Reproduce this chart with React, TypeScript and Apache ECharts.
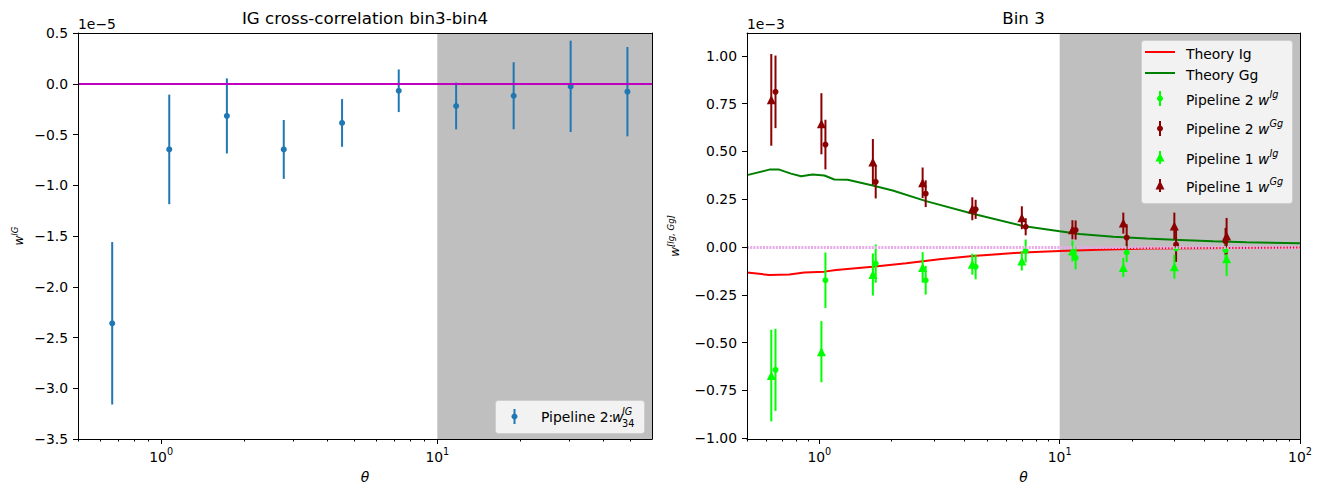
import React, { useEffect, useRef } from 'react';
import * as echarts from 'echarts';

// ---------- Left panel: IG cross-correlation bin3-bin4 (values in units of 1e-5) ----------
const thetaLeft = [0.665, 1.07, 1.73, 2.78, 4.52, 7.25, 11.7, 18.9, 30.4, 48.8];
const wIG = [-2.36, -0.647, -0.317, -0.647, -0.386, -0.069, -0.219, -0.118, -0.026, -0.078];
const wIGErr = [0.8, 0.54, 0.37, 0.29, 0.235, 0.21, 0.23, 0.33, 0.45, 0.44];
const yTicksLeft = [-3.5, -3, -2.5, -2, -1.5, -1, -0.5, 0, 0.5];

// ---------- Right panel: Bin 3 (values in units of 1e-3) ----------
const thetaP1 = [0.631, 1.02, 1.67, 2.69, 4.33, 6.96, 11.3, 18.4, 30.0, 49.5];
const thetaP2 = [0.657, 1.06, 1.716, 2.77, 4.47, 7.22, 11.65, 19.0, 30.5, 49.0];
const p1Gg = [0.77, 0.645, 0.445, 0.336, 0.2, 0.153, 0.09, 0.125, 0.11, 0.057];
const p1GgErr = [0.24, 0.16, 0.12, 0.08, 0.06, 0.06, 0.05, 0.055, 0.07, 0.095];
const p2Gg = [0.812, 0.536, 0.341, 0.279, 0.197, 0.106, 0.089, 0.049, 0.012, 0.03];
const p2GgErr = [0.19, 0.13, 0.087, 0.07, 0.05, 0.045, 0.05, 0.07, 0.09, 0.07];
const p1Ig = [-0.673, -0.548, -0.144, -0.107, -0.09, -0.073, -0.021, -0.107, -0.103, -0.061];
const p1IgErr = [0.24, 0.16, 0.11, 0.08, 0.055, 0.05, 0.055, 0.05, 0.063, 0.09];
const p2Ig = [-0.643, -0.174, -0.087, -0.174, -0.104, -0.021, -0.057, -0.029, -0.008, -0.017];
const p2IgErr = [0.215, 0.145, 0.1, 0.075, 0.065, 0.06, 0.06, 0.05, 0.06, 0.05];

const thetaTheoryGg = [0.5, 0.619, 0.681, 0.762, 0.839, 0.938, 1.049, 1.155, 1.312, 1.667, 2.02, 2.78, 4.35, 7.03, 10, 12.1, 16.7, 23.0, 31.6, 43.5, 59.9, 100];
const theoryGg = [0.376, 0.405, 0.405, 0.384, 0.37, 0.379, 0.374, 0.353, 0.352, 0.322, 0.296, 0.24, 0.174, 0.11, 0.082, 0.068, 0.054, 0.044, 0.037, 0.03, 0.025, 0.019];
const thetaTheoryIg = [0.5, 0.619, 0.75, 0.866, 1.049, 1.174, 1.667, 2.3, 3.16, 4.35, 7.03, 10, 14.7, 23, 100];
const theoryIg = [-0.134, -0.146, -0.144, -0.134, -0.129, -0.12, -0.104, -0.085, -0.064, -0.047, -0.029, -0.021, -0.014, -0.008, -0.003];
const yTicksRight = [-1, -0.75, -0.5, -0.25, 0, 0.25, 0.5, 0.75, 1];

const FONT = 'DejaVu Sans';
const TICK_FS = 13.9;
const SUP_FS = 9.7;
const lg = Math.log10;

function minorTicks(min: number, max: number) {
  const out: number[] = [];
  for (let d = -1; d <= 2; d++) {
    for (let k = 2; k <= 9; k++) {
      const v = lg(k * Math.pow(10, d));
      if (v >= min - 1e-9 && v <= max + 1e-9) out.push(v);
    }
  }
  return out;
}
function majorTicks(min: number, max: number) {
  const out: number[] = [];
  for (let d = -1; d <= 2; d++) if (d >= min - 1e-9 && d <= max + 1e-9) out.push(d);
  return out;
}
const fmtMinus = (s: string) => s.replace('-', '\u2212');

const supRich = {
  b: { fontFamily: FONT, fontSize: TICK_FS, lineHeight: 18, verticalAlign: 'bottom', color: '#000' },
  s: { fontFamily: FONT, fontSize: SUP_FS, lineHeight: 12, verticalAlign: 'top', color: '#000' },
};

function xAxes(gridIndex: number, min: number, max: number) {
  const base = { type: 'value', gridIndex, min, max, splitLine: { show: false } };
  return [
    {
      ...base,
      position: 'bottom',
      axisLine: { show: true, onZero: false, lineStyle: { color: '#000', width: 1 } },
      axisTick: { show: true, length: 5, customValues: majorTicks(min, max), lineStyle: { color: '#000' } },
      axisLabel: {
        show: true, customValues: majorTicks(min, max), margin: 7, color: '#000',
        fontFamily: FONT, fontSize: TICK_FS, rich: supRich,
        formatter: (v: number) => '{b|10}{s|' + Math.round(v) + '}',
      },
      name: 'θ', nameLocation: 'middle', nameGap: 31,
      nameTextStyle: { fontFamily: FONT, fontSize: TICK_FS, fontStyle: 'italic', color: '#000' },
      z: 10,
    },
    {
      ...base,
      position: 'bottom',
      axisLine: { show: false, onZero: false },
      axisTick: { show: true, length: 2.5, customValues: minorTicks(min, max), lineStyle: { color: '#000' } },
      axisLabel: { show: false },
    },
    {
      ...base,
      position: 'top',
      axisLine: { show: true, onZero: false, lineStyle: { color: '#000', width: 1 } },
      axisTick: { show: false },
      axisLabel: { show: false },
      z: 10,
    },
  ];
}

function yAxes(gridIndex: number, min: number, max: number, ticks: number[], digits: number, name: string, nameGap: number) {
  const base = { type: 'value', gridIndex, min, max, splitLine: { show: false } };
  return [
    {
      ...base,
      position: 'left',
      axisLine: { show: true, onZero: false, lineStyle: { color: '#000', width: 1 } },
      axisTick: { show: true, length: 5, customValues: ticks, lineStyle: { color: '#000' } },
      axisLabel: {
        show: true, customValues: ticks, margin: 10, color: '#000', fontFamily: FONT, fontSize: TICK_FS,
        formatter: (v: number) => fmtMinus(Math.abs(v) < 1e-12 ? (0).toFixed(digits) : v.toFixed(digits)),
      },
      name, nameLocation: 'middle', nameGap, nameRotate: 90,
      nameTextStyle: {
        fontFamily: FONT, color: '#000',
        rich: {
          w: { fontFamily: FONT, fontStyle: 'italic', fontSize: 12, lineHeight: 15, verticalAlign: 'bottom', color: '#000' },
          sup: { fontFamily: FONT, fontStyle: 'italic', fontSize: 8.5, lineHeight: 10, verticalAlign: 'top', color: '#000' },
        },
      },
      z: 10,
    },
    {
      ...base,
      position: 'right',
      axisLine: { show: true, onZero: false, lineStyle: { color: '#000', width: 1 } },
      axisTick: { show: false },
      axisLabel: { show: false },
      z: 10,
    },
  ];
}

function errorBars(name: string, xs: number[], ys: number[], es: number[], color: string, xAxisIndex: number, yAxisIndex: number) {
  return {
    type: 'custom', name, xAxisIndex, yAxisIndex, silent: true, z: 3,
    data: xs.map((x, i) => [lg(x), ys[i], es[i]]),
    renderItem: (_p: any, api: any) => {
      const x = api.value(0), y = api.value(1), e = api.value(2);
      const a = api.coord([x, y - e]);
      const b = api.coord([x, y + e]);
      return { type: 'line', shape: { x1: a[0], y1: a[1], x2: b[0], y2: b[1] }, style: { stroke: color, lineWidth: 2 } };
    },
  };
}
function markers(name: string, xs: number[], ys: number[], color: string, symbol: string, size: number, xAxisIndex: number, yAxisIndex: number) {
  return {
    type: 'scatter', name, xAxisIndex, yAxisIndex, silent: true, z: 4,
    symbol, symbolSize: size, itemStyle: { color, opacity: 1 },
    data: xs.map((x, i) => [lg(x), ys[i]]),
  };
}

const L_MIN = lg(0.5), L_MAX = lg(59.9);
const R_MIN = lg(0.5), R_MAX = 2;

function richLabel(x: number, y: number, text: string) {
  return {
    type: 'text', x, y, z: 101,
    style: {
      text, x: 0, y: 0, fill: '#000', fontFamily: FONT, fontSize: TICK_FS,
      verticalAlign: 'middle', align: 'left',
      rich: {
        n: { fontFamily: FONT, fontSize: TICK_FS, lineHeight: 18, verticalAlign: 'bottom' },
        w: { fontFamily: FONT, fontSize: TICK_FS, fontStyle: 'italic', lineHeight: 18, verticalAlign: 'bottom' },
        sup: { fontFamily: FONT, fontSize: SUP_FS, fontStyle: 'italic', lineHeight: 12, verticalAlign: 'top' },
      },
    },
  };
}

function buildOption() {
  const greyArea = (xAxisIndex: number, yAxisIndex: number, from: number, to: number) => ({
    type: 'line', xAxisIndex, yAxisIndex, data: [], silent: true, z: 1,
    markArea: { silent: true, itemStyle: { color: '#bfbfbf' }, data: [[{ xAxis: from }, { xAxis: to }]] },
  });

  const series: any[] = [
    greyArea(0, 0, 1, L_MAX),
    {
      type: 'line', xAxisIndex: 0, yAxisIndex: 0, data: [], silent: true, z: 2,
      markLine: { silent: true, symbol: 'none', label: { show: false }, lineStyle: { color: '#bf00bf', width: 2, type: 'solid' }, data: [{ yAxis: 0 }] },
    },
    errorBars('Pipeline 2', thetaLeft, wIG, wIGErr, '#1f77b4', 0, 0),
    markers('Pipeline 2', thetaLeft, wIG, '#1f77b4', 'circle', 6, 0, 0),

    greyArea(3, 2, 1, R_MAX),
    {
      type: 'line', xAxisIndex: 3, yAxisIndex: 2, data: [], silent: true, z: 2,
      markLine: { silent: true, symbol: 'none', label: { show: false }, lineStyle: { color: '#eaaaea', width: 3, type: [2, 1.2], opacity: 1 }, data: [{ yAxis: 0 }] },
    },
    {
      type: 'line', name: 'Theory Ig', xAxisIndex: 3, yAxisIndex: 2, showSymbol: false, silent: true, z: 2,
      lineStyle: { color: '#ff0000', width: 2 }, data: thetaTheoryIg.map((t, i) => [lg(t), theoryIg[i]]),
    },
    {
      type: 'line', name: 'Theory Gg', xAxisIndex: 3, yAxisIndex: 2, showSymbol: false, silent: true, z: 2,
      lineStyle: { color: '#008000', width: 2 }, data: thetaTheoryGg.map((t, i) => [lg(t), theoryGg[i]]),
    },
    errorBars('P2 Ig', thetaP2, p2Ig, p2IgErr, '#00ff00', 3, 2),
    markers('P2 Ig', thetaP2, p2Ig, '#00ff00', 'circle', 6, 3, 2),
    errorBars('P2 Gg', thetaP2, p2Gg, p2GgErr, '#8b0000', 3, 2),
    markers('P2 Gg', thetaP2, p2Gg, '#8b0000', 'circle', 6, 3, 2),
    errorBars('P1 Ig', thetaP1, p1Ig, p1IgErr, '#00ff00', 3, 2),
    markers('P1 Ig', thetaP1, p1Ig, '#00ff00', 'triangle', 9, 3, 2),
    errorBars('P1 Gg', thetaP1, p1Gg, p1GgErr, '#8b0000', 3, 2),
    markers('P1 Gg', thetaP1, p1Gg, '#8b0000', 'triangle', 9, 3, 2),
  ];

  const legendRight: any[] = [
    { type: 'rect', z: 100, shape: { x: 1141.5, y: 40.5, width: 151, height: 163, r: 3 }, style: { fill: 'rgba(255,255,255,0.8)', stroke: 'rgba(204,204,204,0.8)', lineWidth: 1 } },
    { type: 'line', z: 101, shape: { x1: 1145, y1: 52, x2: 1175, y2: 52 }, style: { stroke: '#ff0000', lineWidth: 2 } },
    { type: 'line', z: 101, shape: { x1: 1145, y1: 73, x2: 1175, y2: 73 }, style: { stroke: '#008000', lineWidth: 2 } },
    { type: 'line', z: 101, shape: { x1: 1160, y1: 91, x2: 1160, y2: 106 }, style: { stroke: '#00ff00', lineWidth: 2 } },
    { type: 'circle', z: 102, shape: { cx: 1160, cy: 98.5, r: 3 }, style: { fill: '#00ff00' } },
    { type: 'line', z: 101, shape: { x1: 1160, y1: 121, x2: 1160, y2: 136 }, style: { stroke: '#8b0000', lineWidth: 2 } },
    { type: 'circle', z: 102, shape: { cx: 1160, cy: 128.5, r: 3 }, style: { fill: '#8b0000' } },
    { type: 'line', z: 101, shape: { x1: 1160, y1: 151, x2: 1160, y2: 164 }, style: { stroke: '#00ff00', lineWidth: 2 } },
    { type: 'polygon', z: 102, shape: { points: [[1160, 152.5], [1164.5, 161.5], [1155.5, 161.5]] }, style: { fill: '#00ff00' } },
    { type: 'line', z: 101, shape: { x1: 1160, y1: 179, x2: 1160, y2: 192 }, style: { stroke: '#8b0000', lineWidth: 2 } },
    { type: 'polygon', z: 102, shape: { points: [[1160, 180.5], [1164.5, 189.5], [1155.5, 189.5]] }, style: { fill: '#8b0000' } },
    richLabel(1186, 52, '{n|Theory Ig}'),
    richLabel(1186, 73, '{n|Theory Gg}'),
    richLabel(1186, 98, '{n|Pipeline 2 }{w|w}{sup|Ig}'),
    richLabel(1186, 127, '{n|Pipeline 2 }{w|w}{sup|Gg}'),
    richLabel(1186, 157, '{n|Pipeline 1 }{w|w}{sup|Ig}'),
    richLabel(1186, 185, '{n|Pipeline 1 }{w|w}{sup|Gg}'),
  ];

  const legendLeft: any[] = [
    { type: 'rect', z: 100, shape: { x: 495.5, y: 400.5, width: 149, height: 33, r: 3 }, style: { fill: 'rgba(255,255,255,0.8)', stroke: 'rgba(204,204,204,0.8)', lineWidth: 1 } },
    { type: 'line', z: 101, shape: { x1: 514.5, y1: 409, x2: 514.5, y2: 424 }, style: { stroke: '#1f77b4', lineWidth: 2 } },
    { type: 'circle', z: 102, shape: { cx: 514.5, cy: 416.5, r: 3 }, style: { fill: '#1f77b4' } },
    { type: 'text', z: 101, x: 541, y: 416.5, style: { text: 'Pipeline 2:', fill: '#000', fontFamily: FONT, fontSize: TICK_FS, verticalAlign: 'middle', align: 'left' } },
    { type: 'text', z: 101, x: 612, y: 416.5, style: { text: 'w', fill: '#000', fontFamily: FONT, fontStyle: 'italic', fontSize: TICK_FS, verticalAlign: 'middle', align: 'left' } },
    { type: 'text', z: 101, x: 622, y: 411, style: { text: 'IG', fill: '#000', fontFamily: FONT, fontStyle: 'italic', fontSize: SUP_FS, verticalAlign: 'middle', align: 'left' } },
    { type: 'text', z: 101, x: 622, y: 423, style: { text: '34', fill: '#000', fontFamily: FONT, fontSize: SUP_FS, verticalAlign: 'middle', align: 'left' } },
  ];

  const texts: any[] = [
    { type: 'text', x: 365, y: 18, style: { text: 'IG cross-correlation bin3-bin4', fill: '#000', fontFamily: FONT, fontSize: 16.7, align: 'center', verticalAlign: 'middle' } },
    { type: 'text', x: 1023.5, y: 18, style: { text: 'Bin 3', fill: '#000', fontFamily: FONT, fontSize: 16.7, align: 'center', verticalAlign: 'middle' } },
    { type: 'text', x: 78, y: 23.5, style: { text: '1e\u22125', fill: '#000', fontFamily: FONT, fontSize: TICK_FS, align: 'left', verticalAlign: 'middle' } },
    { type: 'text', x: 747, y: 23.5, style: { text: '1e\u22123', fill: '#000', fontFamily: FONT, fontSize: TICK_FS, align: 'left', verticalAlign: 'middle' } },
  ];

  return {
    animation: false,
    backgroundColor: '#ffffff',
    textStyle: { fontFamily: FONT },
    grid: [
      { left: 78, top: 33, width: 574, height: 408 },
      { left: 747, top: 33, width: 553, height: 408 },
    ],
    xAxis: [...xAxes(0, L_MIN, L_MAX), ...xAxes(1, R_MIN, R_MAX)],
    yAxis: [
      ...yAxes(0, -3.5, 0.5, yTicksLeft, 1, '{w|w}{sup|IG}', 53),
      ...yAxes(1, -1.005, 1.12, yTicksRight, 2, '{w|w}{sup|[Ig, Gg]}', 66),
    ],
    series,
    graphic: [...texts, ...legendLeft, ...legendRight],
  };
}

export default function App() {
  const ref = useRef<HTMLDivElement>(null);
  useEffect(() => {
    const chart = echarts.init(ref.current as HTMLDivElement, null, { renderer: 'svg' });
    chart.setOption(buildOption() as any);
    return () => chart.dispose();
  }, []);
  return <div ref={ref} style={{ position: 'absolute', left: 0, top: 0, width: 1322, height: 489, background: '#fff' }} />;
}
